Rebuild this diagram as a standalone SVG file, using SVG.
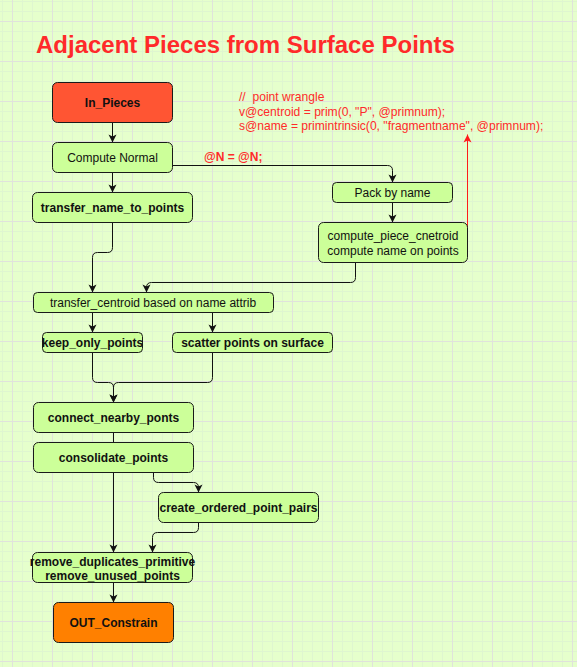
<svg xmlns="http://www.w3.org/2000/svg" width="577" height="667" viewBox="0 0 577 667">
<style>
.n{stroke:#1a1a1a;stroke-width:1}
.g{fill:#ccff99}
.t{font-family:"Liberation Sans",Arial,sans-serif;font-size:12px;fill:#111;text-anchor:middle}
.b{font-weight:bold}
.c{fill:none;stroke:#111;stroke-width:1}
.red{font-family:"Liberation Sans",Arial,sans-serif;fill:#ff2a2a;white-space:pre}
</style>
<defs>
<pattern id="minor" x="2" y="1" width="10" height="10" patternUnits="userSpaceOnUse">
<path d="M0.5,0V10M0,0.5H10" stroke="#dff5d0" stroke-width="1" fill="none"/>
</pattern>
<pattern id="major" x="12" y="21" width="40" height="40" patternUnits="userSpaceOnUse">
<path d="M0.5,0V40M0,0.5H40" stroke="#e0e2dc" stroke-width="1" fill="none"/>
</pattern>
<marker id="arr" markerUnits="userSpaceOnUse" markerWidth="10" markerHeight="10" viewBox="0 0 10 10" refX="9" refY="5" orient="auto">
<path d="M1,1 L9,5 L1,9 L3,5 Z" fill="#111"/>
</marker>
<marker id="arrR" markerUnits="userSpaceOnUse" markerWidth="10" markerHeight="10" viewBox="0 0 10 10" refX="9" refY="5" orient="auto">
<path d="M1,1 L9,5 L1,9 L3,5 Z" fill="#ff1a1a"/>
</marker>
</defs>
<rect width="577" height="667" fill="#e6ffcc"/>
<rect width="577" height="667" fill="url(#minor)"/>
<rect width="577" height="667" fill="url(#major)"/>

<text class="red b" x="36" y="53" font-size="24" font-weight="bold">Adjacent Pieces from Surface Points</text>
<g id="code">
<text class="red" font-size="12.1" x="239" y="101">//  point wrangle</text>
<text class="red" font-size="12.1" x="239" y="115.5">v@centroid = prim(0, "P", @primnum);</text>
<text class="red" font-size="12.1" x="239" y="130">s@name = primintrinsic(0, "fragmentname", @primnum);</text>
</g>

<g id="connectors">
<path class="c" d="M112.5,122.5V142.5" marker-end="url(#arr)"/>
<path class="c" d="M112.5,172.5V192.5" marker-end="url(#arr)"/>
<path class="c" d="M172.5,165.5H387.5Q392.5,165.5 392.5,170.5V182.5" marker-end="url(#arr)"/>
<text class="red b" x="204" y="161" font-size="12" font-weight="bold">@N = @N;</text>
<path class="c" d="M392.5,202.5V222.5" marker-end="url(#arr)"/>
<path d="M467.5,242V134.5" fill="none" stroke="#ff1a1a" stroke-width="1" marker-end="url(#arrR)"/>
<path class="c" d="M355.5,262.5V277.5Q355.5,282.5 350.5,282.5H151.5Q146.5,282.5 146.5,287.5V292.5" marker-end="url(#arr)"/>
<path class="c" d="M112.5,222.5V247.5Q112.5,252.5 107.5,252.5H97.5Q92.5,252.5 92.5,257.5V292.5" marker-end="url(#arr)"/>
<path class="c" d="M92.5,312.5V332.5" marker-end="url(#arr)"/>
<path class="c" d="M212.5,312.5V332.5" marker-end="url(#arr)"/>
<path class="c" d="M92.5,352.5V377.5Q92.5,382.5 97.5,382.5H108.5Q113.5,382.5 113.5,387.5V402.5" marker-end="url(#arr)"/>
<path class="c" d="M212.5,352.5V377.5Q212.5,382.5 207.5,382.5H118.5Q113.5,382.5 113.5,387.5V402.5" marker-end="url(#arr)"/>
<path class="c" d="M113.5,432.5V442.5"/>
<path class="c" d="M113.5,472.5V552.5" marker-end="url(#arr)"/>
<path class="c" d="M153.5,472.5V477.5Q153.5,482.5 158.5,482.5H193.5Q198.5,482.5 198.5,487.5V492.5" marker-end="url(#arr)"/>
<path class="c" d="M198.5,522.5V527.5Q198.5,532.5 193.5,532.5H157.5Q152.5,532.5 152.5,537.5V552.5" marker-end="url(#arr)"/>
<path class="c" d="M113.5,582.5V602.5" marker-end="url(#arr)"/>
</g>

<g id="in_pieces">
<rect class="n" x="52.5" y="82.5" width="120" height="40" rx="5" fill="#ff5533"/>
<text class="t b" x="112.5" y="107">In_Pieces</text>
</g>
<g id="compute_normal">
<rect class="n g" x="52.5" y="142.5" width="120" height="30" rx="5"/>
<text class="t" x="112.5" y="162">Compute Normal</text>
</g>
<g id="transfer_name_to_points">
<rect class="n g" x="32.5" y="192.5" width="160" height="30" rx="5"/>
<text class="t b" x="112.5" y="211.5">transfer_name_to_points</text>
</g>
<g id="pack_by_name">
<rect class="n g" x="332.5" y="182.5" width="120" height="20" rx="4"/>
<text class="t" x="392.5" y="197">Pack by name</text>
</g>
<g id="compute_piece_cnetroid">
<rect class="n g" x="318.5" y="222.5" width="149" height="40" rx="5"/>
<text class="t" x="393" y="240">compute_piece_cnetroid</text>
<text class="t" x="393" y="254.5">compute name on points</text>
</g>
<g id="transfer_centroid">
<rect class="n g" x="33.5" y="292.5" width="240" height="20" rx="4"/>
<text class="t" x="153" y="307">transfer_centroid based on name attrib</text>
</g>
<g id="keep_only_points">
<rect class="n g" x="42.5" y="332.5" width="100" height="20" rx="4"/>
<text class="t b" x="92.5" y="347">keep_only_points</text>
</g>
<g id="scatter_points">
<rect class="n g" x="172.5" y="332.5" width="160" height="20" rx="4"/>
<text class="t b" x="252.5" y="347">scatter points on surface</text>
</g>
<g id="connect_nearby_ponts">
<rect class="n g" x="33.5" y="402.5" width="160" height="30" rx="5"/>
<text class="t b" x="113.5" y="422">connect_nearby_ponts</text>
</g>
<g id="consolidate_points">
<rect class="n g" x="33.5" y="442.5" width="160" height="30" rx="5"/>
<text class="t b" x="113.5" y="462">consolidate_points</text>
</g>
<g id="create_ordered_point_pairs">
<rect class="n g" x="158.5" y="492.5" width="160" height="30" rx="5"/>
<text class="t b" x="238.5" y="512">create_ordered_point_pairs</text>
</g>
<g id="remove_duplicates">
<rect class="n g" x="32.5" y="552.5" width="160" height="30" rx="5"/>
<text class="t b" x="112.5" y="565.5">remove_duplicates_primitive</text>
<text class="t b" x="112.5" y="580">remove_unused_points</text>
</g>
<g id="out_constrain">
<rect class="n" x="53.5" y="602.5" width="120" height="40" rx="5" fill="#ff8000"/>
<text class="t b" x="113.5" y="627">OUT_Constrain</text>
</g>
</svg>
